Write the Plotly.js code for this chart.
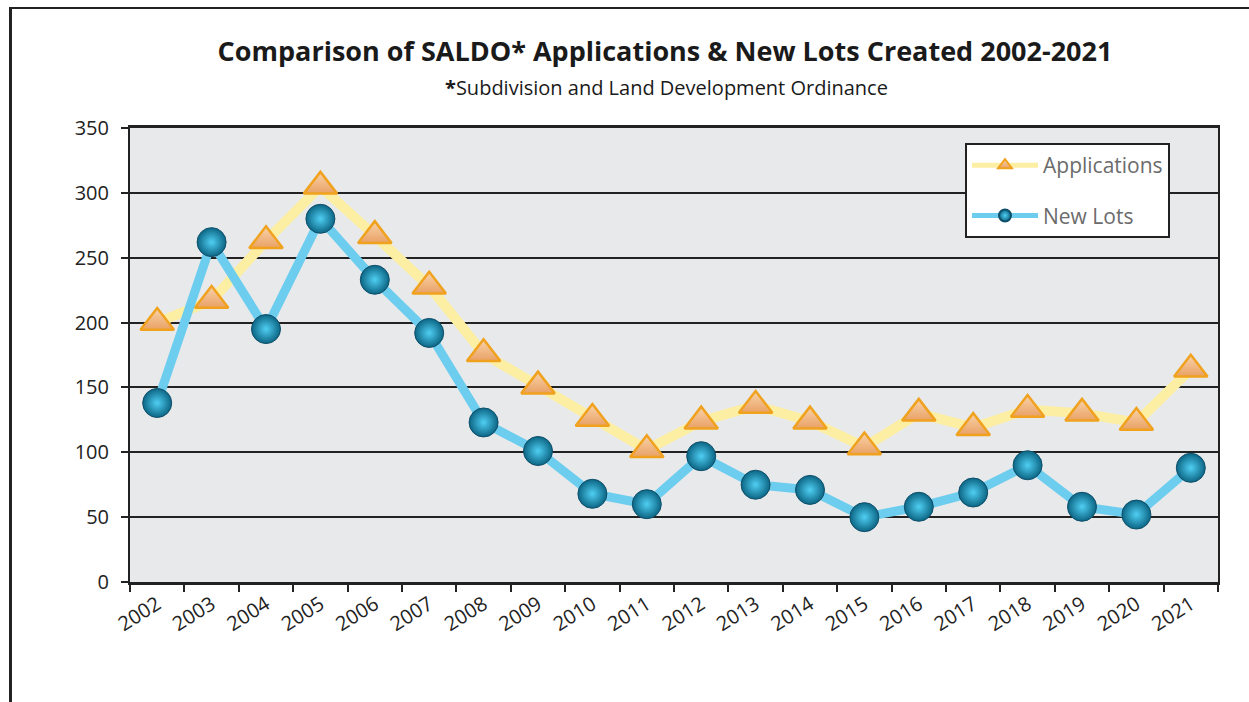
<!DOCTYPE html>
<html>
<head>
<meta charset="utf-8">
<script src="https://cdn.plot.ly/plotly-3.0.1.min.js"></script>
<style>
  html, body { margin: 0; padding: 0; background: #ffffff; }
  #wrap { position: relative; width: 1249px; height: 702px; overflow: hidden; }
  #chart { width: 1249px; height: 702px; }
  #frame { position: absolute; left: 9px; top: 7px; width: 1400px; height: 900px;
           border-left: 3px solid #222; border-top: 2px solid #222; pointer-events: none; }
</style>
</head>
<body>
<div id="wrap">
  <div id="chart"></div>
  <div id="frame"></div>
</div>
<script>
const years = ["2002","2003","2004","2005","2006","2007","2008","2009","2010","2011",
               "2012","2013","2014","2015","2016","2017","2018","2019","2020","2021"];
const applications = [200, 217, 263, 305, 267, 228, 176, 151, 126, 102,
                      124, 136, 124, 104, 130, 119, 133, 130, 123, 164];
const newLots = [138, 262, 195, 280, 233, 192, 123, 101, 68, 60,
                 97, 75, 71, 50, 58, 69, 90, 58, 52, 88];
const yTicks = [0, 50, 100, 150, 200, 250, 300, 350];

const traces = [
  {
    x: years, y: applications, name: "Applications", type: "scatter", mode: "lines+markers",
    legendgroup: "a",
    line: { color: "#FCEFA3", width: 10 },
    marker: { symbol: "triangle-up", size: 29, color: "#F9D3AA",
              gradient: { type: "vertical", color: "#E9A165" },
              line: { color: "#F0A21F", width: 2.5 } },
    cliponaxis: false
  },
  {
    x: years, y: newLots, name: "New Lots", type: "scatter", mode: "lines+markers",
    legendgroup: "b",
    line: { color: "#6DCDEE", width: 9 },
    marker: { symbol: "circle", size: 29, color: "#0C6584",
              gradient: { type: "radial", color: "#4FCFF3" },
              line: { color: "#0E4F6A", width: 1 } },
    cliponaxis: false
  }
];

const layout = {
  width: 1249, height: 702,
  margin: { l: 130, r: 31, t: 128, b: 120 },
  paper_bgcolor: "#ffffff",
  plot_bgcolor: "#E8E9EB",
  font: { family: "Open Sans, sans-serif", color: "#222222" },
  title: {
    text: "<b>Comparison of SALDO* Applications &amp; New Lots Created 2002-2021</b>",
    font: { family: "Open Sans, sans-serif", size: 27, color: "#1a1a1a" },
    x: 665 / 1249, xref: "container", xanchor: "center",
    y: 1 - 52 / 702, yref: "container", yanchor: "middle"
  },
  annotations: [{
    text: "<b>*</b>Subdivision and Land Development Ordinance",
    xref: "paper", yref: "paper",
    x: (666 - 130) / 1088, y: (582 - 87) / 454,
    xanchor: "center", yanchor: "middle", showarrow: false,
    font: { family: "Open Sans, sans-serif", size: 20, color: "#1a1a1a" }
  }],
  xaxis: {
    type: "category",
    tickson: "boundaries",
    ticks: "outside", ticklen: 7, tickwidth: 2, tickcolor: "#222",
    tickangle: -32,
    tickfont: { size: 20, color: "#222" },
    showline: true, linecolor: "#222", linewidth: 3, mirror: true,
    showgrid: false, zeroline: false,
    range: [-0.5, 19.5]
  },
  yaxis: {
    range: [0, 350],
    tickvals: yTicks,
    ticks: "outside", ticklen: 7, tickwidth: 2, tickcolor: "#222",
    tickfont: { size: 20, color: "#222" },
    showline: true, linecolor: "#222", linewidth: 2, mirror: true,
    showgrid: true, gridcolor: "#222", gridwidth: 2,
    zeroline: false, ticklabelstandoff: 8
  },
  showlegend: true,
  legend: {
    x: (965 - 130) / 1088, y: (582 - 143) / 454,
    xanchor: "left", yanchor: "top",
    bgcolor: "#ffffff", bordercolor: "#222", borderwidth: 2,
    font: { family: "Open Sans, sans-serif", size: 21, color: "#6b6b6b" },
    tracegroupgap: 20,
    itemwidth: 66,
    itemsizing: "constant"
  }
};

Plotly.newPlot("chart", traces, layout, { displayModeBar: false, staticPlot: true });
</script>
</body>
</html>
